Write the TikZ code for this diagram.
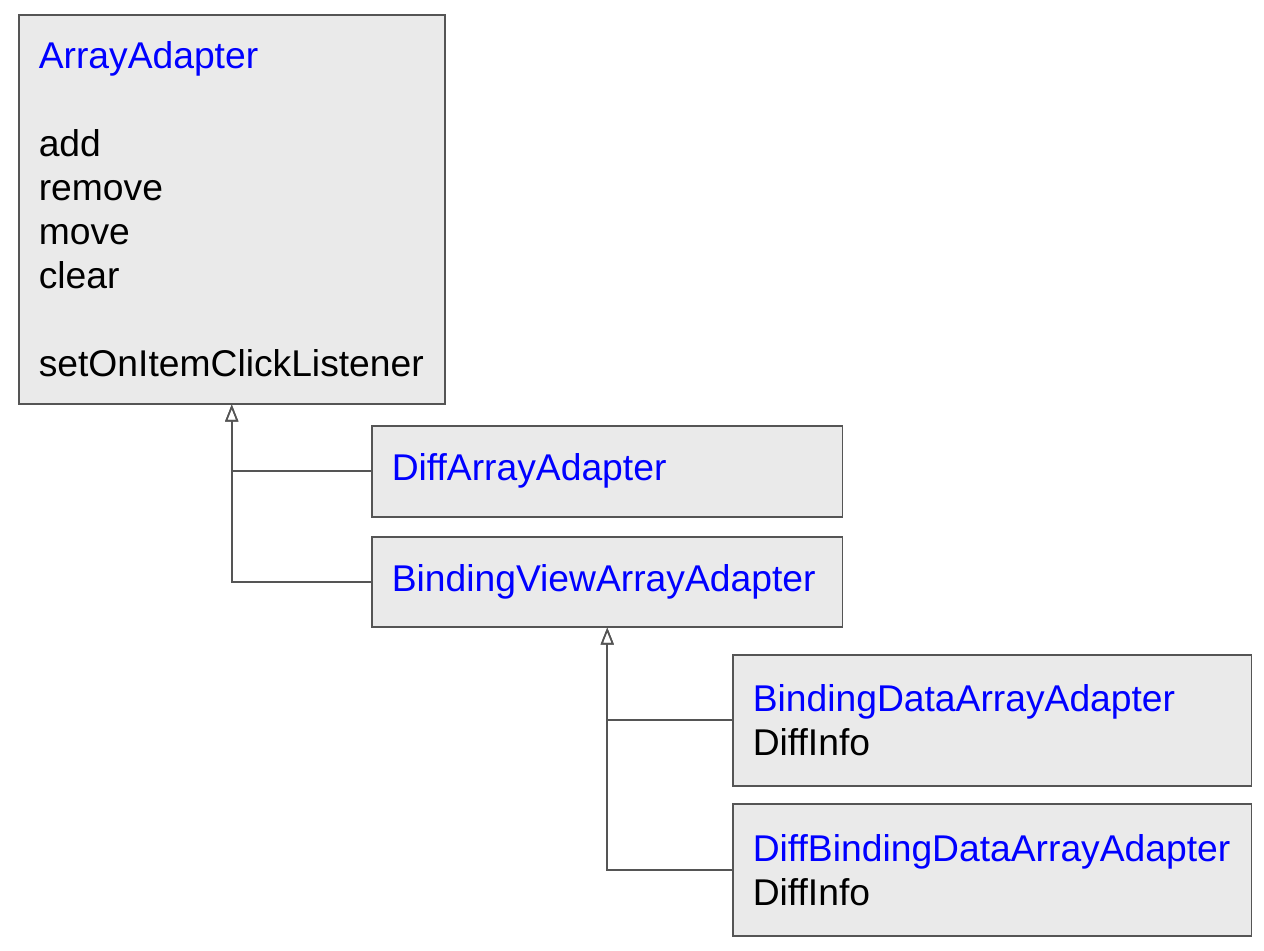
\documentclass[tikz,border=0pt]{standalone}
\usepackage{fontspec}
\setmainfont{Liberation Sans}
\usepackage{xcolor}
\usetikzlibrary{arrows.meta,positioning}
\definecolor{clsfill}{HTML}{EAEAEA}
\definecolor{clsline}{HTML}{555555}
\definecolor{clsname}{HTML}{0000FF}
\tikzset{
  cls/.style={rectangle,draw=clsline,line width=0.9pt,fill=clsfill,
              anchor=north west,inner xsep=0.4cm,inner ysep=0pt,align=left,
              font=\fontsize{21.2}{25}\selectfont,text=black},
  inherit/.style={-{Triangle[open,length=3.4mm,width=2.6mm]},line width=0.9pt,draw=clsline},
}
\newcommand{\clsname}[1]{\textcolor{clsname}{#1}}
\begin{document}
\begin{tikzpicture}[x=0.02cm,y=-0.02cm]
\useasboundingbox (0,0) rectangle (1264,950);
\node[cls,minimum width=8.52cm,minimum height=7.78cm,text width=7.72cm] (arrayAdapter) at (18,14)
  {\clsname{ArrayAdapter}\\[25pt]add\\remove\\move\\clear\\[25pt]setOnItemClickListener};
\node[cls,minimum width=9.42cm,minimum height=1.82cm,text width=8.62cm] (diffAdapter) at (371,425)
  {\clsname{DiffArrayAdapter}};
\node[cls,minimum width=9.42cm,minimum height=1.8cm,text width=8.62cm] (viewAdapter) at (371,536)
  {\clsname{BindingViewArrayAdapter}};
\node[cls,minimum width=10.38cm,minimum height=2.62cm,text width=9.58cm] (dataAdapter) at (732,654)
  {\clsname{BindingDataArrayAdapter}\\DiffInfo};
\node[cls,minimum width=10.38cm,minimum height=2.64cm,text width=9.58cm] (diffDataAdapter) at (732,803)
  {\clsname{DiffBindingDataArrayAdapter}\\DiffInfo};
% inheritance
\draw[inherit] (diffAdapter.west) -| (arrayAdapter.south);
\draw[inherit] (viewAdapter.west) -| (arrayAdapter.south);
\draw[inherit] (dataAdapter.west) -| (viewAdapter.south);
\draw[inherit] (diffDataAdapter.west) -| (viewAdapter.south);
\end{tikzpicture}
\end{document}
